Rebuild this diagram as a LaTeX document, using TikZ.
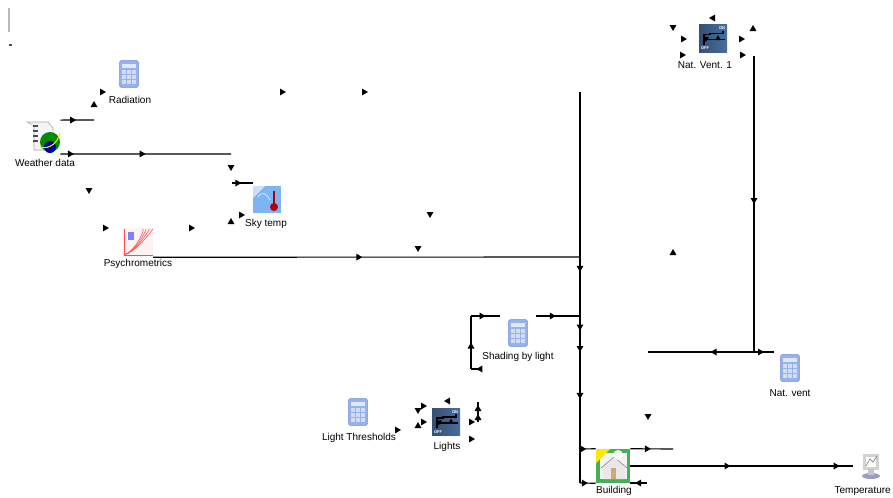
\documentclass[tikz,border=0pt]{standalone}
\usepackage{fontspec}
\setmainfont{Liberation Sans}
\usetikzlibrary{arrows.meta, positioning, shapes.geometric, decorations.markings}
\definecolor{calcblue}{RGB}{150,178,236}
\definecolor{calcdark}{RGB}{110,138,205}
\definecolor{relayblue}{RGB}{70,110,160}
\definecolor{relaydark}{RGB}{55,80,115}
\definecolor{skyblue}{RGB}{125,180,242}
\definecolor{housegreen}{RGB}{70,175,90}
\tikzset{
  wire/.style={line width=0.85pt,black},
  midtip/.style={postaction={decorate,decoration={markings,mark=at position #1 with {\arrow{Triangle[length=4.5pt,width=5pt]}}}}},
  tipmark/.style={regular polygon,regular polygon sides=3,fill=black,inner sep=0pt,minimum size=6pt},
  tipup/.style={tipmark},
  tipdown/.style={tipmark,shape border rotate=180},
  tipleft/.style={tipmark,shape border rotate=90},
  tipright/.style={tipmark,shape border rotate=-90},
  iconbox/.style={rectangle,inner sep=0pt},
  calcicon/.style={iconbox,minimum width=14pt,minimum height=20pt,fill=calcblue,draw=calcdark,rounded corners=1pt},
  relayicon/.style={iconbox,minimum width=21pt,minimum height=20.5pt,left color=relaydark,right color=relayblue},
  lbl/.style={font=\fontsize{7.5}{9}\selectfont,inner sep=0pt},
}
\begin{document}
\begin{tikzpicture}[x=0.75pt,y=-0.75pt]
  \useasboundingbox (0,0) rectangle (893,497);
  % Icons
  \node[iconbox,minimum width=25.5pt,minimum height=25pt] (weather) at (43,137) {};
  \node[calcicon] (radiation) at (129,74) {};
  \node[iconbox,minimum width=21pt,minimum height=20.5pt,fill=skyblue] (skytemp) at (267,199.5) {};
  \node[iconbox,minimum width=23pt,minimum height=21.75pt,fill=red!5] (psychro) at (137.5,242.5) {};
  \node[calcicon] (shade) at (518,333) {};
  \node[calcicon] (thresholds) at (358,412) {};
  \node[relayicon] (lights) at (446,422) {};
  \node[relayicon] (natvent) at (713,38.5) {};
  \node[calcicon] (natcalc) at (790,368) {};
  \node[iconbox,minimum width=25.5pt,minimum height=25.5pt,fill=housegreen] (building) at (613,466) {};
  \node[iconbox,minimum width=13pt,minimum height=19pt] (temperature) at (871,465) {};
  % Icon details
  \draw[gray!70,fill=gray!8] (27,122) -- (48,122) -- (53,128) -- (53,150) -- (34,150) -- (34,126) -- cycle;
  \foreach \y in {126,131,136,141} \draw[black!70,line width=.8pt] (33,\y) -- (38,\y);
  \fill[green!55!black] (50,142) circle (10);
  \fill[blue!60!black] (50,147) circle (6);
  \draw[yellow!80!orange,line width=.8pt] (40,147) .. controls (50,150) and (58,142) .. (60,133);
  \foreach \nd in {radiation,shade,thresholds,natcalc} {
    \foreach \i in {-5,0,5} \foreach \j in {-2,3,8}
      \fill[white!70!calcdark] ([shift={(\i-2,\j-2)}]\nd.center) rectangle ([shift={(\i+2,\j+2)}]\nd.center);
    \fill[white!70!calcblue] ([shift={(-7,-10)}]\nd.center) rectangle ([shift={(7,-6)}]\nd.center);
  }
  \draw[red!70!black,line width=1.4pt] (274,191) -- (274,205);
  \fill[red!70!black] (274,207) circle (4);
  \draw[white,thin] (258,197) .. controls (261,191) and (267,193) .. (270,200);
  \fill[white!60!skyblue] (253,186) -- (265,186) -- (253,198) -- cycle;
  \foreach \o in {0,7,14,21}
    \draw[red!70] (124,255) .. controls (136,251) and (146,238-\o/2) .. (153-\o/2,229);
  \draw[red!70] (124,229) -- (124,255) -- (153,255);
  \fill[blue!50] (128,232) rectangle (134,240);
  \foreach \nd in {lights,natvent} {
    \draw[black,line width=1.2pt] ([shift={(-9,6)}]\nd.center) -- ([shift={(-9,-4)}]\nd.center) -- ([shift={(-3,-4)}]\nd.center) -- ([shift={(-3,-5)}]\nd.center) -- ([shift={(10,-5)}]\nd.center) -- ([shift={(10,-8)}]\nd.center);
    \draw[black,line width=1.2pt] ([shift={(-10,1)}]\nd.center) -- ([shift={(12,1)}]\nd.center);
    \node[tipdown,minimum size=5pt] (\nd d) at ([shift={(-7,0)}]\nd.center) {};
    \node[tipup,minimum size=5pt] (\nd u) at ([shift={(5,0)}]\nd.center) {};
    \node[font=\fontsize{3}{3}\selectfont\bfseries,text=white,inner sep=0pt] (\nd on) at ([shift={(9,-10)}]\nd.center) {ON};
    \node[font=\fontsize{3}{3}\selectfont\bfseries,text=white,inner sep=0pt] (\nd off) at ([shift={(-8,10)}]\nd.center) {OFF};
  }
  \fill[white!90!gray] (600,453) rectangle (627,479);
  \fill[yellow!90!orange] (596,449) -- (610,449) -- (596,463) -- cycle;
  \fill[gray!18] (603,479) -- (603,466) -- (614,457) -- (625,466) -- (625,479) -- cycle;
  \draw[gray] (601,468) -- (614,457) -- (627,468);
  \fill[brown!70] (611,468) rectangle (616,479);
  \fill[white] (618,455) circle (5);
  \fill[gray!35] (863,454) rectangle (879,470);
  \fill[white] (866,457) rectangle (876,467);
  \draw[black!60] (866,466) -- (870,459) -- (873,462) -- (877,456);
  \fill[blue!30!gray!60] (871,476) ellipse (9 and 3);
  \fill[gray!45] (868,469) rectangle (874,475);
  % Labels
  \node[lbl] (weatherlbl) at (45,163) {Weather data};
  \node[lbl] (radiationlbl) at (130,100) {Radiation};
  \node[lbl] (skytemplbl) at (266,224) {Sky temp};
  \node[lbl] (psychrolbl) at (138,264) {Psychrometrics};
  \node[lbl] (shadelbl) at (518,357) {Shading by light};
  \node[lbl] (thresholdslbl) at (359,438) {Light Thresholds};
  \node[lbl] (lightslbl) at (447,447) {Lights};
  \node[lbl] (natventlbl) at (705,65) {Nat. Vent. 1};
  \node[lbl] (natcalclbl) at (790,393) {Nat. vent};
  \node[lbl] (buildinglbl) at (614,491) {Building};
  \node[lbl,anchor=east] (temperaturelbl) at (891,491) {Temperature};
  % Free ends of the wires
  \coordinate (rad) at (94,120);
  \coordinate (sky1) at (231,154);
  \coordinate (sky2) at (232,183);
  \coordinate (psyend) at (580,257);
  \coordinate (bustop) at (580,92);
  \coordinate (busbot) at (580,483);
  \coordinate (busjoin) at (580,449);
  \coordinate (bldout) at (673,449);
  \coordinate (bldret) at (647,483);
  \coordinate (bldret2) at (630,483);
  \coordinate (tempin) at (853,466);
  \coordinate (ventop) at (754,56);
  \coordinate (ventjoin) at (754,352);
  \coordinate (ventleft) at (648,352);
  \coordinate (ventright) at (774,352);
  \coordinate (shin) at (500,316);
  \coordinate (shcorner) at (471,316);
  \coordinate (shbot) at (471,369);
  \coordinate (shend) at (480,369);
  \coordinate (shout) at (536,316);
  \coordinate (shbus) at (580,316);
  \coordinate (ltup) at (478,402);
  \coordinate (ltlow) at (478,422);
  % Wires
  \draw[wire,midtip=.47] (weather.north east) -- (rad);
  \draw[wire,midtip=.08,midtip=.5] (weather.south east) -- (sky1);
  \draw[wire,midtip=.45] (sky2) -- (skytemp.west |- sky2);
  \draw[wire,midtip=.49] (psychro.south east) -- (psyend);
  \draw[wire,midtip=.46,midtip=.61,midtip=.665,midtip=.785] (bustop) -- (busbot);
  \draw[wire,midtip=.5] (busbot) -- (building.south west);
  \draw[wire,midtip=.4] (busjoin) -- (building.north west);
  \draw[wire,midtip=.48] (building.north east) -- (bldout);
  \draw[wire,midtip=.7] (bldret) -- (bldret2);
  \draw[wire,midtip=.45,midtip=.94] (building.east) -- (tempin);
  \draw[wire,midtip=.5] (ventop) -- (ventjoin);
  \draw[wire,midtip=.41] (ventjoin) -- (ventleft);
  \draw[wire,midtip=.5] (ventjoin) -- (ventright);
  \draw[wire,midtip=.5] (shcorner) -- (shin);
  \draw[wire,midtip=.5] (shbot) -- (shcorner);
  \draw[wire,midtip=.4] (shend) -- (shbot);
  \draw[wire,midtip=.45] (shout) -- (shbus);
  \draw[wire,midtip=.4,midtip=.85] (ltlow) -- (ltup);
  % Loose arrow marks
  \foreach \x/\y [count=\i] in {102/92,282/92,364/92,105/228,191/228,241/215,
      683/39,682/55,741/39,742/55,397/430,423/406,423/422,471/422,471/439}
    \node[tipright] (tr\i) at (\x,\y) {};
  \foreach \x/\y [count=\i] in {89/190,231/167,430/214,418/248,648/416,673/27,418/410}
    \node[tipdown] (td\i) at (\x,\y) {};
  \foreach \x/\y [count=\i] in {94/105,231/222,673/253,753/29,418/426}
    \node[tipup] (tu\i) at (\x,\y) {};
  \foreach \x/\y [count=\i] in {713/18,448/401}
    \node[tipleft] (tl\i) at (\x,\y) {};
  % Stray marks at the top left
  \fill[gray!55] (8,8) rectangle (10,32);
  \fill[black!70] (9,44) rectangle (12,46);
\end{tikzpicture}
\end{document}
